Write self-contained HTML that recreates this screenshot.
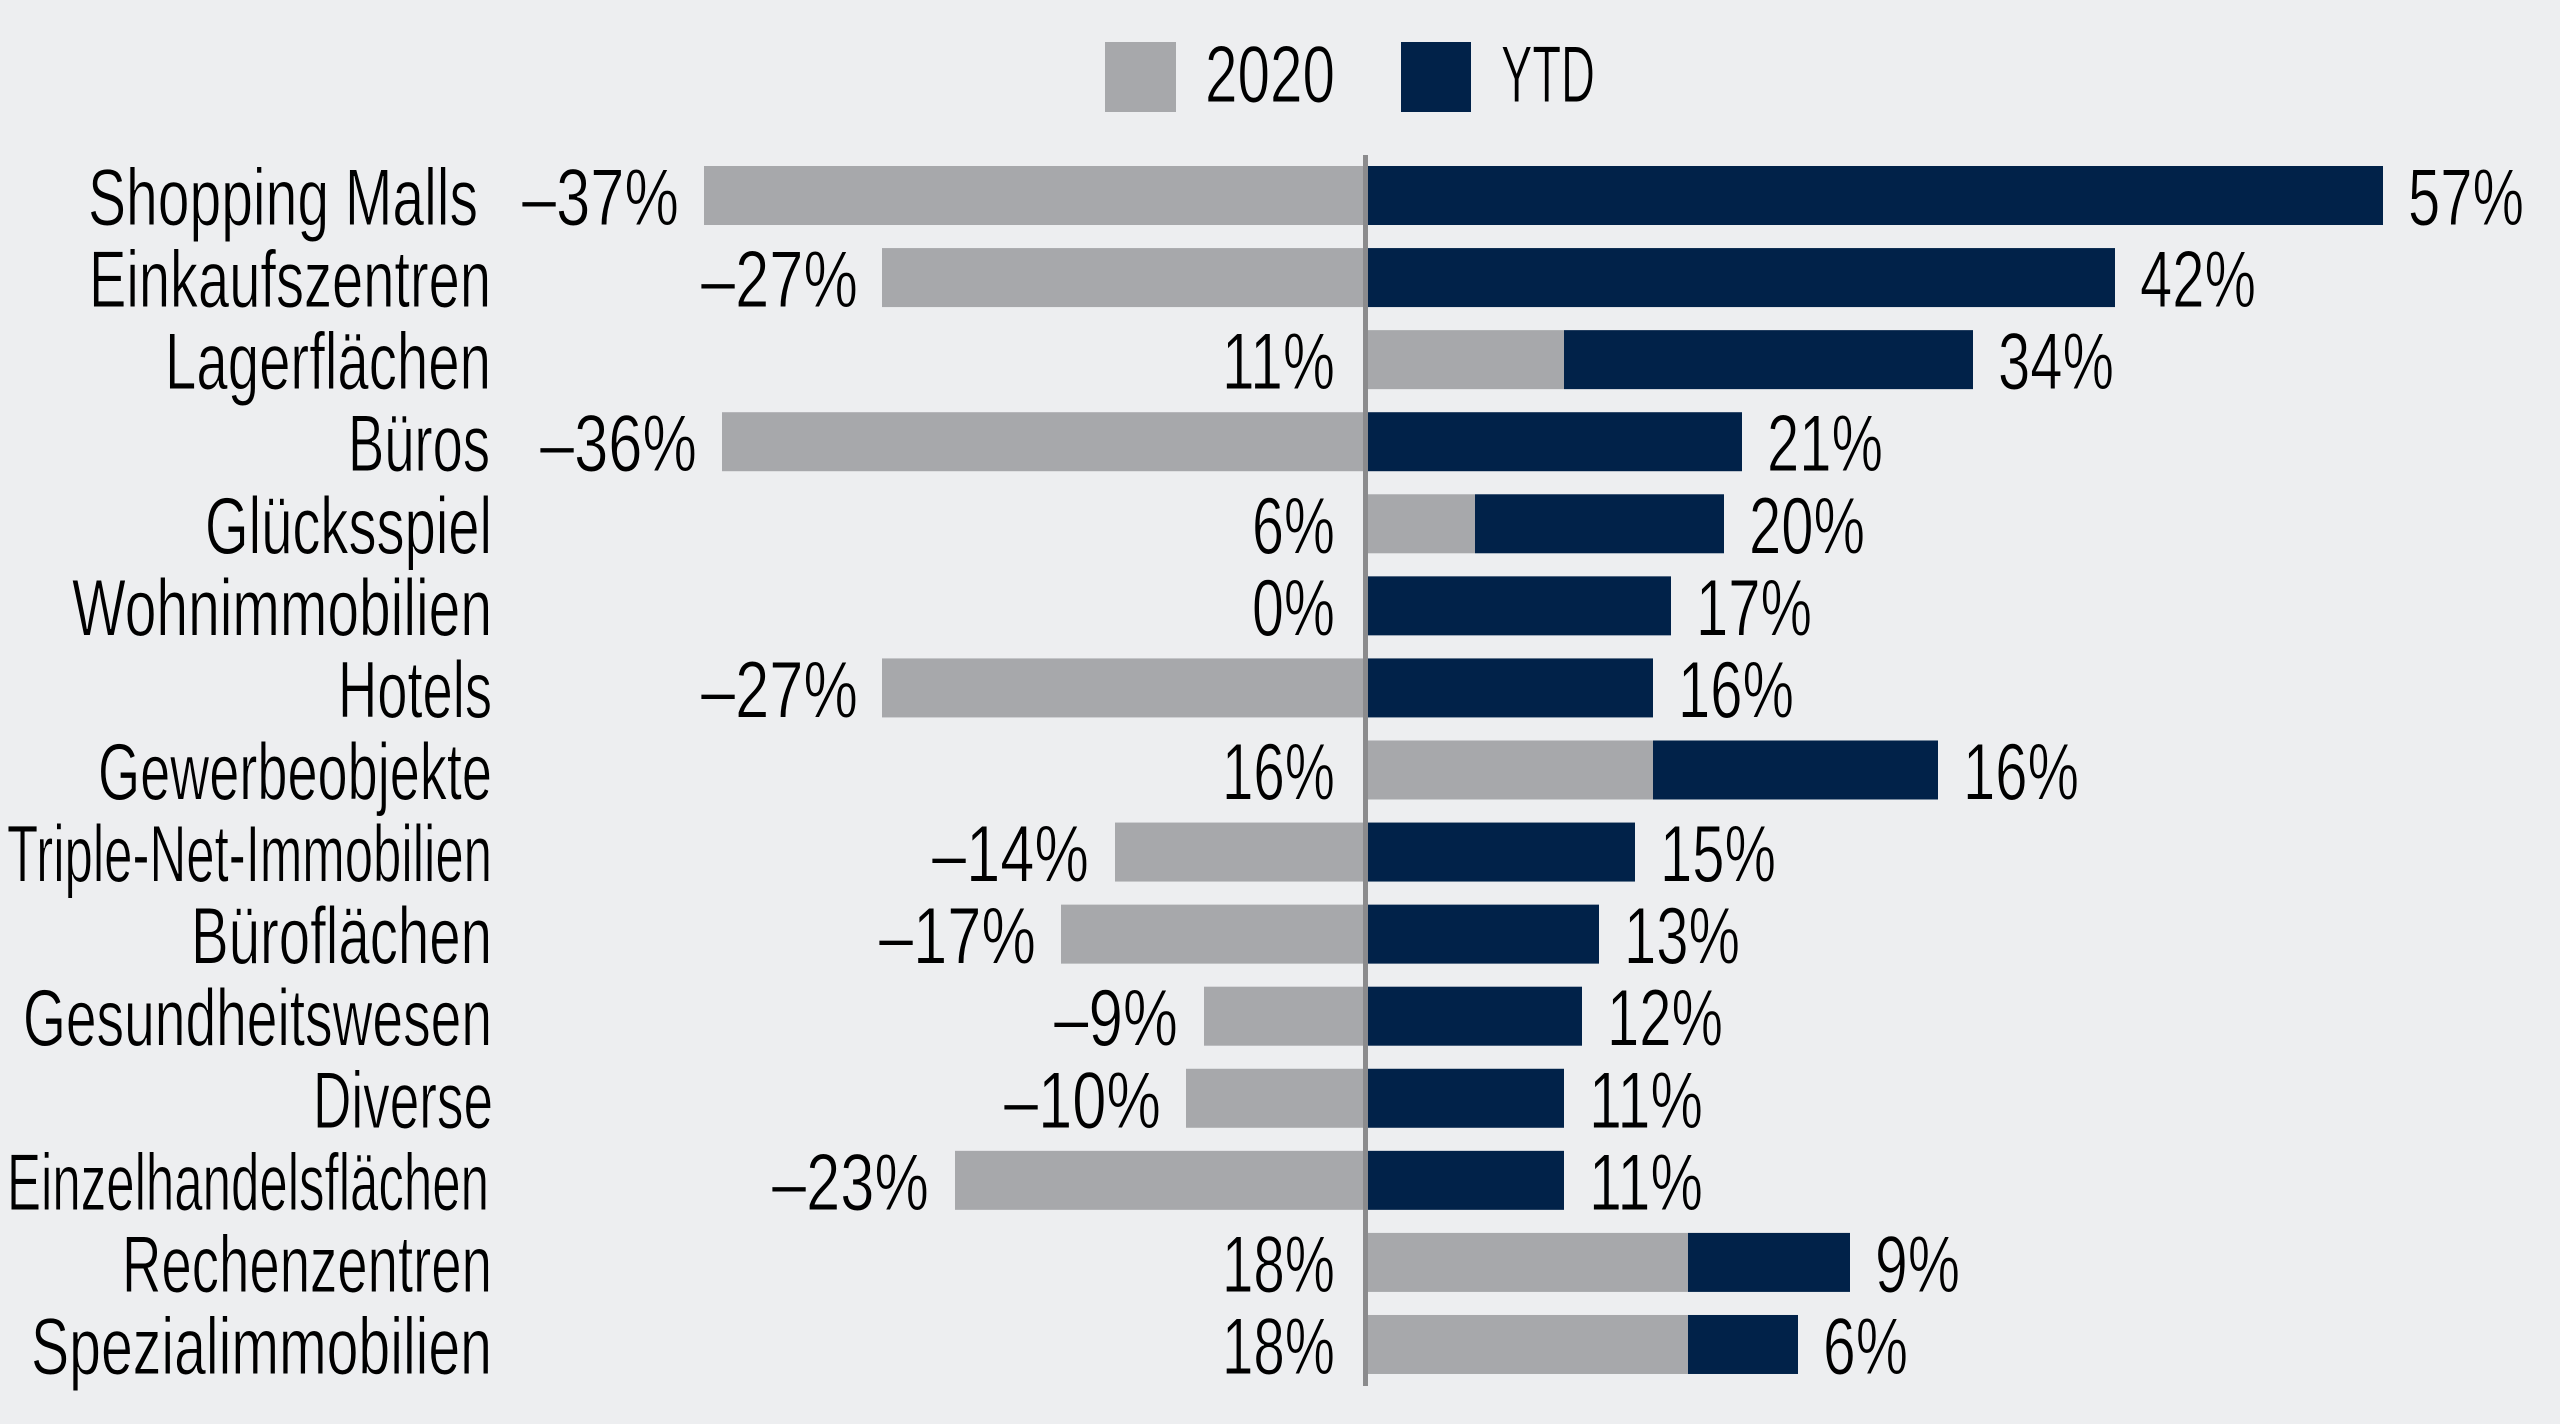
<!DOCTYPE html>
<html><head><meta charset="utf-8"><style>
html,body{margin:0;padding:0;background:#edeef0;}
svg{display:block;}
text{font-family:"Liberation Sans",sans-serif;font-size:81px;fill:#000;stroke:#edeef0;stroke-width:1px;}
</style></head><body>
<svg width="2560" height="1424" viewBox="0 0 2560 1424" xmlns="http://www.w3.org/2000/svg">
<rect x="0" y="0" width="2560" height="1424" fill="#edeef0"/>
<rect x="1105" y="42" width="71" height="70" fill="#a7a8ab"/>
<text x="1205" y="102" textLength="130" lengthAdjust="spacingAndGlyphs">2020</text>
<rect x="1401" y="42" width="70" height="70" fill="#012249"/>
<text x="1501" y="102" textLength="94" lengthAdjust="spacingAndGlyphs">YTD</text>

<g fill="#a7a8ab">
<rect x="704" y="166" width="659" height="59"/>
<rect x="882" y="248.07" width="481" height="59"/>
<rect x="1368" y="330.14" width="196" height="59"/>
<rect x="722" y="412.21" width="641" height="59"/>
<rect x="1368" y="494.28" width="107" height="59"/>
<rect x="882" y="658.42" width="481" height="59"/>
<rect x="1368" y="740.49" width="285" height="59"/>
<rect x="1115" y="822.56" width="248" height="59"/>
<rect x="1061" y="904.63" width="302" height="59"/>
<rect x="1204" y="986.7" width="159" height="59"/>
<rect x="1186" y="1068.77" width="177" height="59"/>
<rect x="955" y="1150.84" width="408" height="59"/>
<rect x="1368" y="1232.91" width="320" height="59"/>
<rect x="1368" y="1314.98" width="320" height="59"/>
</g>
<g fill="#012249">
<rect x="1368" y="166" width="1015" height="59"/>
<rect x="1368" y="248.07" width="747" height="59"/>
<rect x="1564" y="330.14" width="409" height="59"/>
<rect x="1368" y="412.21" width="374" height="59"/>
<rect x="1475" y="494.28" width="249" height="59"/>
<rect x="1368" y="576.35" width="303" height="59"/>
<rect x="1368" y="658.42" width="285" height="59"/>
<rect x="1653" y="740.49" width="285" height="59"/>
<rect x="1368" y="822.56" width="267" height="59"/>
<rect x="1368" y="904.63" width="231" height="59"/>
<rect x="1368" y="986.7" width="214" height="59"/>
<rect x="1368" y="1068.77" width="196" height="59"/>
<rect x="1368" y="1150.84" width="196" height="59"/>
<rect x="1688" y="1232.91" width="162" height="59"/>
<rect x="1688" y="1314.98" width="110" height="59"/>
</g>
<rect x="1363" y="155" width="5" height="1231" fill="#8b8b8d"/>

<g text-anchor="end">
<text x="478" y="225" textLength="390" lengthAdjust="spacingAndGlyphs">Shopping Malls</text>
<text x="491" y="307.1" textLength="402" lengthAdjust="spacingAndGlyphs">Einkaufszentren</text>
<text x="491" y="389.1" textLength="326" lengthAdjust="spacingAndGlyphs">Lagerflächen</text>
<text x="490" y="471.2" textLength="142" lengthAdjust="spacingAndGlyphs">Büros</text>
<text x="492" y="553.3" textLength="287" lengthAdjust="spacingAndGlyphs">Glücksspiel</text>
<text x="492" y="635.4" textLength="420" lengthAdjust="spacingAndGlyphs">Wohnimmobilien</text>
<text x="492" y="717.4" textLength="154" lengthAdjust="spacingAndGlyphs">Hotels</text>
<text x="492" y="799.5" textLength="394" lengthAdjust="spacingAndGlyphs">Gewerbeobjekte</text>
<text x="492" y="881.6" textLength="485" lengthAdjust="spacingAndGlyphs">Triple-Net-Immobilien</text>
<text x="492" y="963.6" textLength="301" lengthAdjust="spacingAndGlyphs">Büroflächen</text>
<text x="492" y="1045.7" textLength="469" lengthAdjust="spacingAndGlyphs">Gesundheitswesen</text>
<text x="493" y="1127.8" textLength="180" lengthAdjust="spacingAndGlyphs">Diverse</text>
<text x="489" y="1209.8" textLength="482" lengthAdjust="spacingAndGlyphs">Einzelhandelsflächen</text>
<text x="492" y="1291.9" textLength="370" lengthAdjust="spacingAndGlyphs">Rechenzentren</text>
<text x="492" y="1374" textLength="461" lengthAdjust="spacingAndGlyphs">Spezialimmobilien</text>
</g>

<g text-anchor="end">
<text x="679" y="225" textLength="157" lengthAdjust="spacingAndGlyphs">–37%</text>
<text x="858" y="307.1" textLength="157" lengthAdjust="spacingAndGlyphs">–27%</text>
<text x="1335" y="389.1" textLength="113" lengthAdjust="spacingAndGlyphs">11%</text>
<text x="697" y="471.2" textLength="157" lengthAdjust="spacingAndGlyphs">–36%</text>
<text x="1335" y="553.3" textLength="83" lengthAdjust="spacingAndGlyphs">6%</text>
<text x="1335" y="635.4" textLength="83" lengthAdjust="spacingAndGlyphs">0%</text>
<text x="858" y="717.4" textLength="157" lengthAdjust="spacingAndGlyphs">–27%</text>
<text x="1335" y="799.5" textLength="113" lengthAdjust="spacingAndGlyphs">16%</text>
<text x="1089" y="881.6" textLength="157" lengthAdjust="spacingAndGlyphs">–14%</text>
<text x="1036" y="963.6" textLength="157" lengthAdjust="spacingAndGlyphs">–17%</text>
<text x="1178" y="1045.7" textLength="124" lengthAdjust="spacingAndGlyphs">–9%</text>
<text x="1161" y="1127.8" textLength="157" lengthAdjust="spacingAndGlyphs">–10%</text>
<text x="929" y="1209.8" textLength="157" lengthAdjust="spacingAndGlyphs">–23%</text>
<text x="1335" y="1291.9" textLength="113" lengthAdjust="spacingAndGlyphs">18%</text>
<text x="1335" y="1374" textLength="113" lengthAdjust="spacingAndGlyphs">18%</text>
</g>

<g>
<text x="2408" y="225" textLength="116" lengthAdjust="spacingAndGlyphs">57%</text>
<text x="2140" y="307.1" textLength="116" lengthAdjust="spacingAndGlyphs">42%</text>
<text x="1998" y="389.1" textLength="116" lengthAdjust="spacingAndGlyphs">34%</text>
<text x="1767" y="471.2" textLength="116" lengthAdjust="spacingAndGlyphs">21%</text>
<text x="1749" y="553.3" textLength="116" lengthAdjust="spacingAndGlyphs">20%</text>
<text x="1696" y="635.4" textLength="116" lengthAdjust="spacingAndGlyphs">17%</text>
<text x="1678" y="717.4" textLength="116" lengthAdjust="spacingAndGlyphs">16%</text>
<text x="1963" y="799.5" textLength="116" lengthAdjust="spacingAndGlyphs">16%</text>
<text x="1660" y="881.6" textLength="116" lengthAdjust="spacingAndGlyphs">15%</text>
<text x="1624" y="963.6" textLength="116" lengthAdjust="spacingAndGlyphs">13%</text>
<text x="1607" y="1045.7" textLength="116" lengthAdjust="spacingAndGlyphs">12%</text>
<text x="1589" y="1127.8" textLength="114" lengthAdjust="spacingAndGlyphs">11%</text>
<text x="1589" y="1209.8" textLength="114" lengthAdjust="spacingAndGlyphs">11%</text>
<text x="1875" y="1291.9" textLength="85" lengthAdjust="spacingAndGlyphs">9%</text>
<text x="1823" y="1374" textLength="85" lengthAdjust="spacingAndGlyphs">6%</text>
</g>
</svg>
</body></html>
